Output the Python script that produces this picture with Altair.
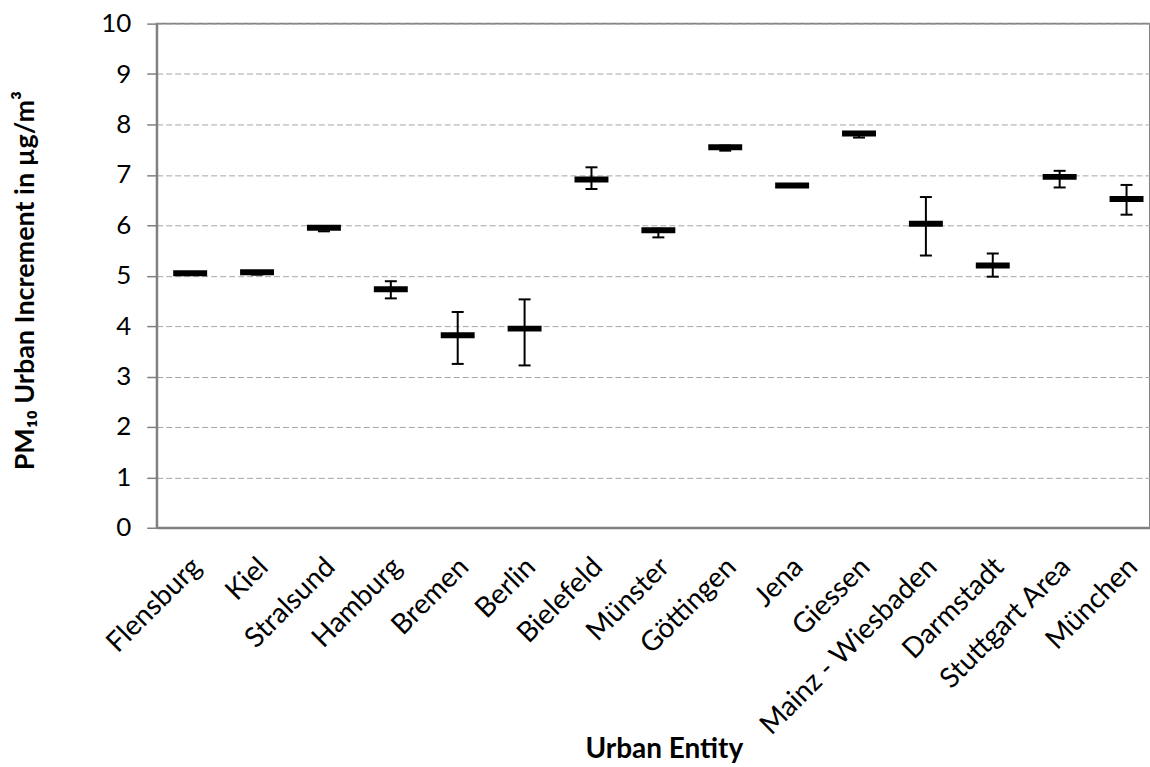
import altair as alt
import pandas as pd

cities = ["Flensburg", "Kiel", "Stralsund", "Hamburg", "Bremen", "Berlin",
          "Bielefeld", "Münster", "Göttingen", "Jena", "Giessen",
          "Mainz - Wiesbaden", "Darmstadt", "Stuttgart Area", "München"]
means = [5.05, 5.07, 5.95, 4.73, 3.82, 3.95, 6.91, 5.90, 7.55, 6.79, 7.82, 6.03, 5.20, 6.96, 6.52]
lows = [5.05, 5.02, 5.88, 4.55, 3.25, 3.22, 6.72, 5.76, 7.48, 6.79, 7.74, 5.40, 4.98, 6.75, 6.21]
highs = [5.05, 5.09, 5.97, 4.89, 4.28, 4.53, 7.15, 5.93, 7.58, 6.79, 7.84, 6.56, 5.44, 7.08, 6.80]

df = pd.DataFrame({"city": cities, "mean": means, "lo": lows, "hi": highs})

FONT = "Lato, DejaVu Sans, sans-serif"
W, H = 995, 505

x = alt.X(
    "city:N", sort=cities,
    scale=alt.Scale(range=[0, 1005], paddingInner=0, paddingOuter=0),
    axis=alt.Axis(
        title="Urban Entity", labelAngle=-45, labelAlign="right", labelBaseline="top",
        labelPadding=25, labelOffset=-3, ticks=False, domainColor="#808080", domainWidth=2,
        labelFont=FONT, labelFontSize=28, labelColor="#000000", labelLimit=400,
        titleFont=FONT, titleFontSize=28, titleFontWeight="bold", titleColor="#000000",
        titleX=508, titleY=230, titleAnchor="middle", titleAlign="center", titleBaseline="alphabetic",
        grid=False,
    ),
)

y_axis = alt.Axis(
    title="PM₁₀ Urban Increment in µg/m³", values=list(range(0, 11)),
    tickSize=10, tickColor="#808080", tickWidth=1.5, domainColor="#808080", domainWidth=2,
    labelFont=FONT, labelFontSize=26, labelColor="#000000", labelPadding=16,
    titleFont=FONT, titleFontSize=27, titleFontWeight="bold", titleColor="#000000",
    titleX=-131, titleY=257, titleAngle=-90, titleAlign="center", titleBaseline="middle",
    grid=True, gridColor="#a6a6a6", gridDash=[6, 3], gridWidth=1,
)

yscale = alt.Scale(domain=[0, 10], nice=False, zero=True)

base = alt.Chart(df)

whisk = base.mark_rule(color="black", strokeWidth=2).encode(
    x=x,
    y=alt.Y("lo:Q", scale=yscale, axis=y_axis),
    y2="hi:Q",
)
cap_lo = base.mark_tick(color="black", size=12, thickness=2, opacity=1).encode(
    x=alt.X("city:N", sort=cities), y=alt.Y("lo:Q", scale=yscale)
)
cap_hi = base.mark_tick(color="black", size=12, thickness=2, opacity=1).encode(
    x=alt.X("city:N", sort=cities), y=alt.Y("hi:Q", scale=yscale)
)
mean_mark = base.mark_tick(color="black", size=34, thickness=6, opacity=1).encode(
    x=alt.X("city:N", sort=cities), y=alt.Y("mean:Q", scale=yscale)
)

chart = (
    alt.layer(whisk, cap_lo, cap_hi, mean_mark)
    .properties(
        width=W, height=H,
        autosize=alt.AutoSizeParams(type="none"),
        padding={"left": 157, "top": 23, "right": 0, "bottom": 239},
        background="white",
    )
    .configure_view(stroke="#808080", strokeWidth=2)
)

chart.save("out.html", embed_options={"renderer": "svg", "actions": False})
